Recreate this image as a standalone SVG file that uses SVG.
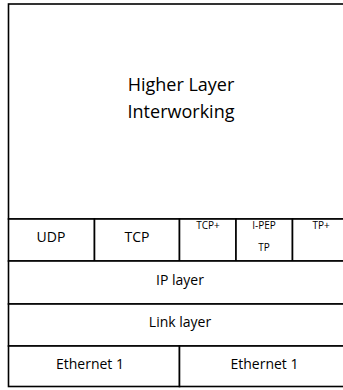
<svg xmlns="http://www.w3.org/2000/svg" width="343" height="390" viewBox="0 0 343 390">
<style>
.cell{fill:#fff;stroke:#000;stroke-width:1.6}
.t{font-family:"Open Sans","Noto Sans",sans-serif;fill:#000;text-anchor:middle}
.big{font-size:18px}
.mid{font-size:14px}
.sm{font-size:10px}
</style>
<rect width="343" height="390" fill="#fff"/>
<g id="higher">
<rect class="cell" x="8.5" y="4" width="342" height="215"/>
<text class="t big" x="181" y="91">Higher Layer</text>
<text class="t big" x="181" y="118">Interworking</text>
</g>
<g id="udp"><rect class="cell" x="8.5" y="219" width="86" height="42"/><text class="t mid" x="51" y="242">UDP</text></g>
<g id="tcp"><rect class="cell" x="94.5" y="219" width="85" height="42"/><text class="t mid" x="137" y="242">TCP</text></g>
<g id="tcpplus"><rect class="cell" x="179.5" y="219" width="56.5" height="42"/><text class="t sm" x="208" y="229">TCP+</text></g>
<g id="ipep"><rect class="cell" x="236" y="219" width="56.5" height="42"/><text class="t sm" x="264" y="229">I-PEP</text><text class="t sm" x="264" y="251">TP</text></g>
<g id="tpplus"><rect class="cell" x="292.5" y="219" width="58" height="42"/><text class="t sm" x="321" y="229">TP+</text></g>
<g id="ip"><rect class="cell" x="8.5" y="261" width="342" height="43"/><text class="t mid" x="180" y="285">IP layer</text></g>
<g id="link"><rect class="cell" x="8.5" y="304" width="342" height="42"/><text class="t mid" x="180" y="327">Link layer</text></g>
<g id="eth1"><rect class="cell" x="8.5" y="346" width="171" height="40.5"/><text class="t mid" x="90" y="369">Ethernet 1</text></g>
<g id="eth2"><rect class="cell" x="179.5" y="346" width="171" height="40.5"/><text class="t mid" x="264.5" y="369">Ethernet 1</text></g>
<g id="connectors"></g>
</svg>
